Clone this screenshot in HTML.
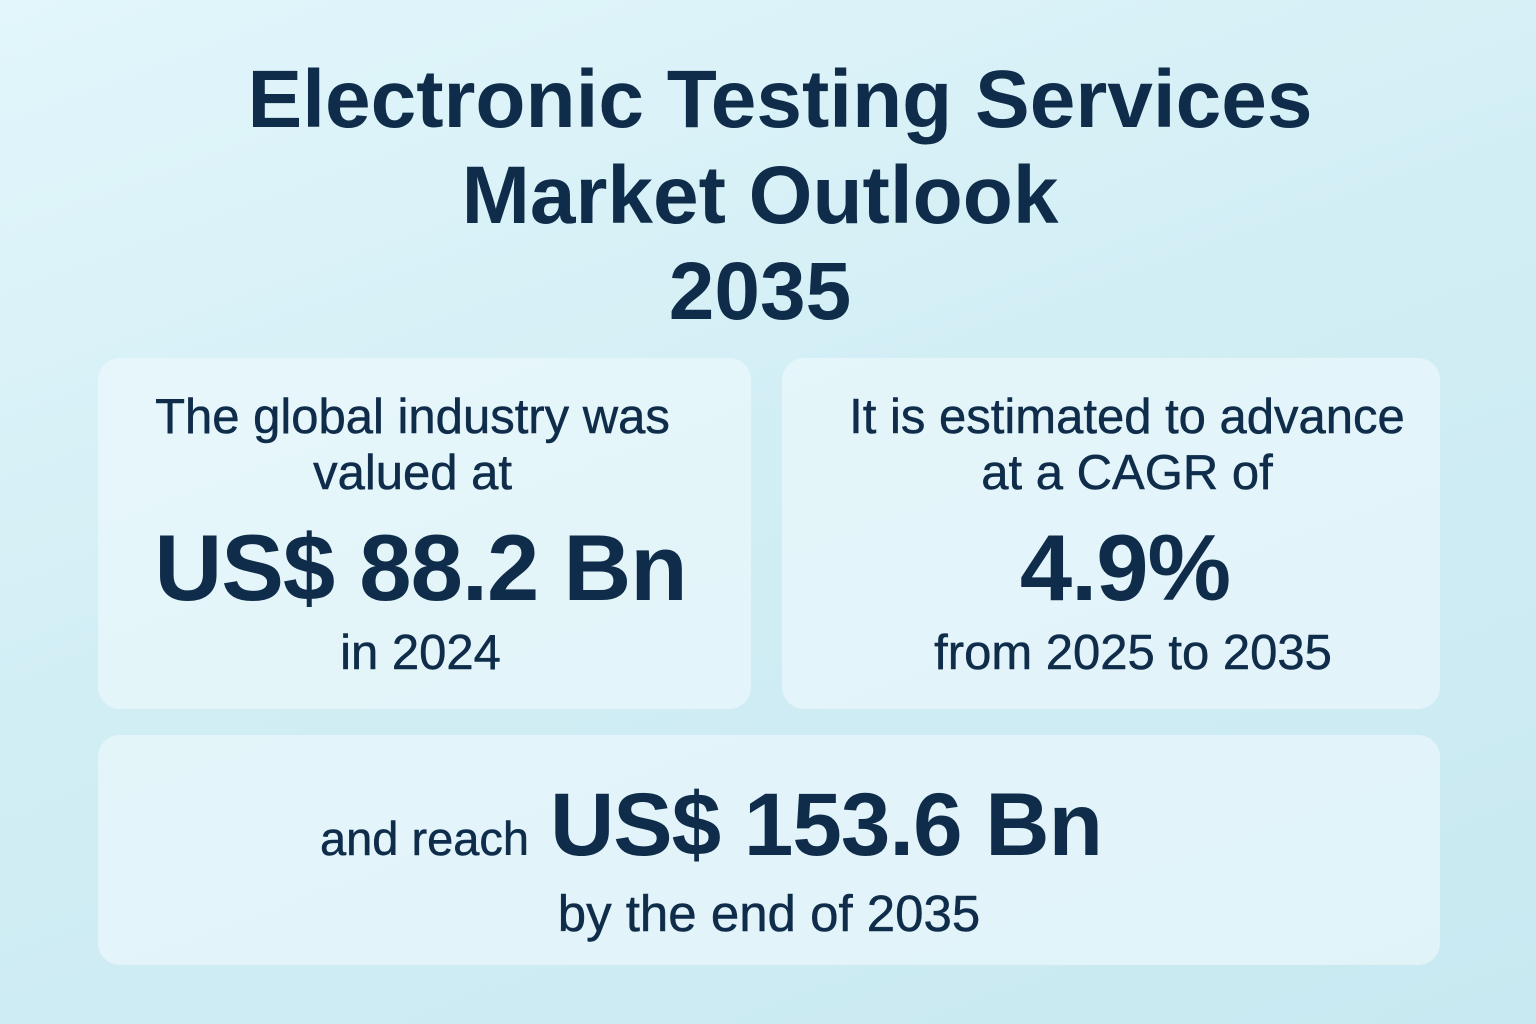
<!DOCTYPE html>
<html><head><meta charset="utf-8"><style>
body{margin:0;width:1536px;height:1024px;overflow:hidden;font-family:"Liberation Sans",sans-serif;color:#0f2d4a;
background:linear-gradient(160deg,#e2f6fb 0%,#d2eef5 45%,#c8e9f1 100%);position:relative}
.t{position:absolute;left:0;width:100%;text-align:center;white-space:nowrap}
.title{font-weight:bold;font-size:82px;letter-spacing:0px;left:0;width:1560px}
.card{position:absolute;background:rgba(240,250,253,0.6);border-radius:22px}
.s{font-size:49px;-webkit-text-stroke:0.5px #0f2d4a}
.b{font-weight:bold;font-size:94px;letter-spacing:-1px}
</style></head><body>
<div class="t title" style="top:53px">Electronic Testing Services</div>
<div class="t title" style="top:149px;left:-20px">Market Outlook</div>
<div class="t title" style="top:245px;left:-20px">2035</div>

<div class="card" style="left:98px;top:358px;width:653px;height:351px">
 <div class="t s" style="top:31px;left:-12px">The global industry was</div>
 <div class="t s" style="top:87px;left:-12px">valued at</div>
 <div class="t b" style="top:156px;left:-4px">US$ 88.2 Bn</div>
 <div class="t s" style="top:267px;left:-4px">in 2024</div>
</div>
<div class="card" style="left:782px;top:358px;width:658px;height:351px">
 <div class="t s" style="top:31px;left:16px">It is estimated to advance</div>
 <div class="t s" style="top:87px;left:16px">at a CAGR of</div>
 <div class="t b" style="top:156px;left:14px">4.9%</div>
 <div class="t s" style="top:267px;left:22px">from 2025 to 2035</div>
</div>
<div class="card" style="left:98px;top:735px;width:1342px;height:230px">
 <div class="t s" style="top:76px;left:222px;width:auto;font-size:47px">and reach</div>
 <div class="t b" style="top:38px;left:452px;width:auto;font-size:89px">US$ 153.6 Bn</div>
 <div class="t s" style="top:149px;left:0px;font-size:51px">by the end of 2035</div>
</div>
</body></html>
